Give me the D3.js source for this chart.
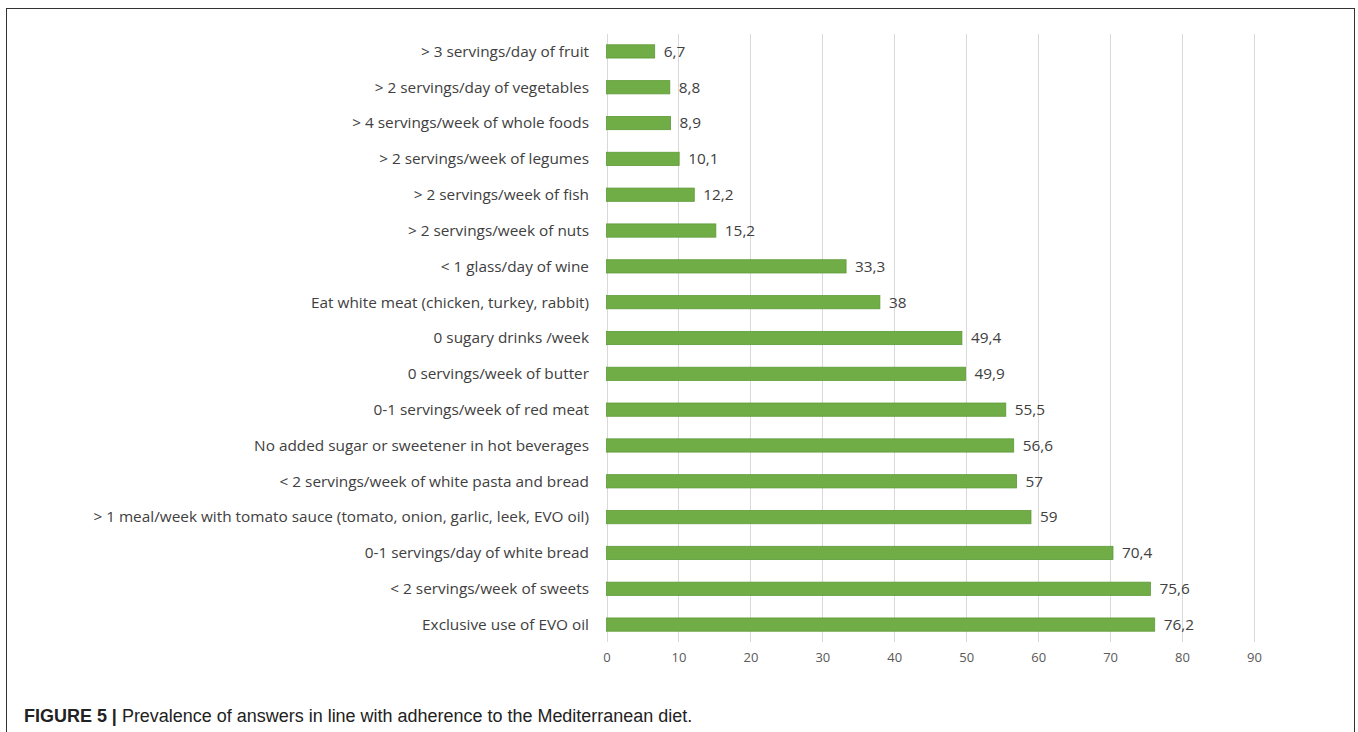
<!DOCTYPE html>
<html>
<head>
<meta charset="utf-8">
<script src="https://cdn.jsdelivr.net/npm/d3@7"></script>
<style>
  html, body { margin: 0; padding: 0; background: #fff; }
  svg { display: block; }
</style>
</head>
<body>
<svg id="chart" width="1358" height="732"></svg>
<script>
// Categories (top to bottom) and their prevalence values (%)
const categories = [
  "> 3 servings/day of fruit",
  "> 2 servings/day of vegetables",
  "> 4 servings/week of whole foods",
  "> 2 servings/week of legumes",
  "> 2 servings/week of fish",
  "> 2 servings/week of nuts",
  "< 1 glass/day of wine",
  "Eat white meat (chicken, turkey, rabbit)",
  "0 sugary drinks /week",
  "0 servings/week of butter",
  "0-1 servings/week of red meat",
  "No added sugar or sweetener in hot beverages",
  "< 2 servings/week of white pasta and bread",
  "> 1 meal/week with tomato sauce (tomato, onion, garlic, leek, EVO oil)",
  "0-1 servings/day of white bread",
  "< 2 servings/week of sweets",
  "Exclusive use of EVO oil"
];
const values = [6.7, 8.8, 8.9, 10.1, 12.2, 15.2, 33.3, 38, 49.4, 49.9, 55.5, 56.6, 57, 59, 70.4, 75.6, 76.2];
const tickValues = [0, 10, 20, 30, 40, 50, 60, 70, 80, 90];

const svg = d3.select("#chart");

// Outer frame
svg.append("rect")
  .attr("x", 6.5).attr("y", 8.5)
  .attr("width", 1348).attr("height", 730)
  .attr("fill", "none").attr("stroke", "#333").attr("stroke-width", 1);

const x = d3.scaleLinear().domain([0, 90]).range([606.5, 1254]);
const y = d3.scaleBand().domain(categories).range([33.5, 642.5]).paddingInner(0.63).paddingOuter(0.315);

const labelFont = "'Open Sans', Carlito, Lato, sans-serif";

// Vertical gridlines
svg.append("g").selectAll("line")
  .data(tickValues)
  .join("line")
  .attr("x1", d => Math.round(x(d)) + 0.5).attr("x2", d => Math.round(x(d)) + 0.5)
  .attr("y1", 34).attr("y2", 642)
  .attr("stroke", "#d9d9d9").attr("stroke-width", 1);

// Bottom axis labels only (no domain line)
const xAxis = svg.append("g")
  .attr("transform", "translate(0,642)")
  .call(d3.axisBottom(x).tickValues(tickValues).tickSize(0).tickPadding(11));
xAxis.select(".domain").remove();
xAxis.selectAll("text")
  .attr("fill", "#595959")
  .style("font-family", labelFont)
  .style("font-size", "13px");

// Bars
svg.append("g").selectAll("rect")
  .data(values)
  .join("rect")
  .attr("x", x(0))
  .attr("y", (d, i) => y(categories[i]))
  .attr("width", d => x(d) - x(0))
  .attr("height", y.bandwidth())
  .attr("fill", "#70ad47")
  .attr("stroke", "#5e9a38")
  .attr("stroke-width", 0.8);

// Category labels, sized so the longest one spans the label column
const catLabels = svg.append("g").selectAll("text")
  .data(categories)
  .join("text")
  .attr("x", 589)
  .attr("y", d => y(d) + y.bandwidth() / 2)
  .attr("dy", "0.35em")
  .attr("text-anchor", "end")
  .attr("fill", "#404040")
  .style("font-family", labelFont)
  .style("font-size", "14px")
  .text(d => d);
let longest = d3.max(catLabels.nodes(), n => n.getComputedTextLength());
const labelSize = 14 * 496 / longest;
catLabels.style("font-size", labelSize + "px");

// Value labels
svg.append("g").selectAll("text")
  .data(values)
  .join("text")
  .attr("x", d => x(d) + 9)
  .attr("y", (d, i) => y(categories[i]) + y.bandwidth() / 2)
  .attr("dy", "0.35em")
  .attr("fill", "#404040")
  .style("font-family", labelFont)
  .style("font-size", labelSize + "px")
  .text(d => String(d).replace(".", ","));

// Caption
const cap = svg.append("text")
  .attr("x", 24).attr("y", 722)
  .style("font-family", "'Liberation Sans', Arial, sans-serif")
  .style("font-size", "15px")
  .attr("fill", "#222");
cap.append("tspan").style("font-weight", "bold").text("FIGURE 5 | ");
cap.append("tspan").text("Prevalence of answers in line with adherence to the Mediterranean diet.");
const capLen = cap.node().getComputedTextLength();
cap.style("font-size", (15 * 669 / capLen) + "px");
</script>
</body>
</html>
